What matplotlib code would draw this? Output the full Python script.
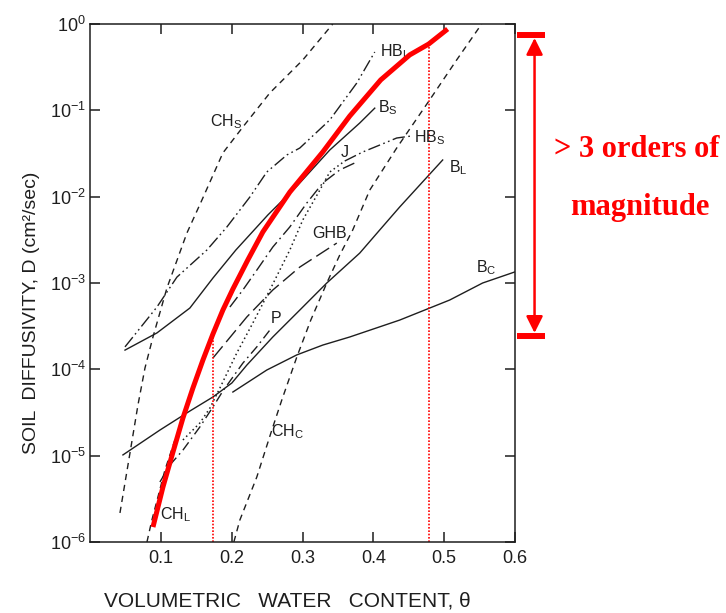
import matplotlib
matplotlib.use('Agg')
import matplotlib.pyplot as plt
from matplotlib.ticker import FixedLocator, NullLocator, FixedFormatter

plt.rcParams['font.family'] = ['Liberation Sans', 'DejaVu Sans']
plt.rcParams['mathtext.fontset'] = 'custom'
plt.rcParams['mathtext.rm'] = 'Liberation Sans'
plt.rcParams['mathtext.it'] = 'Liberation Sans:italic'
plt.rcParams['mathtext.default'] = 'regular'

# ---------------- data (volumetric water content, diffusivity cm2/s) ----------------
red_theta = [0.0889, 0.1030, 0.1171, 0.1312, 0.1453, 0.1594, 0.1735, 0.1876, 0.2017,
             0.2228, 0.2440, 0.2821, 0.3286, 0.3667, 0.4104, 0.4513, 0.4781, 0.5049]
red_D = [1.49e-6, 4.34e-6, 1.10e-5, 2.73e-5, 6.08e-5, 1.28e-4, 2.56e-4, 4.86e-4, 8.51e-4,
         1.85e-3, 3.90e-3, 1.13e-2, 3.29e-2, 8.59e-2, 0.225, 0.438, 0.586, 0.875]

chs_theta = [0.0423, 0.0564, 0.0677, 0.0776, 0.0889, 0.1086, 0.1368, 0.1580, 0.1876,
             0.2158, 0.2539, 0.3004, 0.3427]
chs_D = [2.17e-6, 1.07e-5, 3.86e-5, 1.035e-4, 2.37e-4, 8.75e-4, 3.79e-3, 9.14e-3, 3.21e-2,
         6.41e-2, 0.159, 0.383, 1.0]

chl_theta = [0.0804, 0.0874, 0.0959, 0.1058, 0.1199]
chl_D = [1.0e-6, 1.80e-6, 3.32e-6, 6.82e-6, 1.52e-5]

chc_theta = [0.2031, 0.2116, 0.2355, 0.2567, 0.2708, 0.2920, 0.3117, 0.3343, 0.3526,
             0.3709, 0.3949, 0.4330, 0.4795, 0.5176, 0.5529]
chc_D = [1.0e-6, 1.80e-6, 5.66e-6, 1.98e-5, 4.42e-5, 1.39e-4, 3.72e-4, 1.0e-3, 2.11e-3,
         4.11e-3, 1.19e-2, 3.66e-2, 0.132, 0.383, 1.0]

hbl_theta = [0.0494, 0.0945, 0.1227, 0.1650, 0.1932, 0.2257, 0.2496, 0.2779, 0.2962,
             0.3385, 0.3766, 0.4020]
hbl_D = [1.82e-4, 5.27e-4, 1.17e-3, 2.41e-3, 4.45e-3, 9.91e-3, 1.93e-2, 3.04e-2, 3.66e-2,
         7.73e-2, 0.207, 0.474]

hbs_theta = [0.1312, 0.1551, 0.1693, 0.1834, 0.2073, 0.2299, 0.2539, 0.2821, 0.3004,
             0.3244, 0.3385, 0.3597, 0.3850, 0.4090, 0.4330, 0.4542]
hbs_D = [1.52e-5, 2.39e-5, 3.56e-5, 6.08e-5, 1.55e-4, 3.44e-4, 8.30e-4, 2.41e-3, 5.37e-3,
         1.19e-2, 1.93e-2, 2.59e-2, 3.29e-2, 3.96e-2, 4.78e-2, 5.05e-2]
HBS_SPLIT = 11   # dotted up to this index, dash-dot-dot afterwards

bs_theta = [0.0494, 0.0945, 0.1410, 0.1735, 0.2059, 0.2511, 0.2934, 0.3385, 0.3808, 0.4020]
bs_D = [1.67e-4, 2.64e-4, 5.13e-4, 1.14e-3, 2.41e-3, 6.14e-3, 1.36e-2, 3.47e-2, 7.13e-2, 0.106]

bl_theta = [0.0465, 0.0987, 0.1410, 0.1735, 0.2003, 0.2214, 0.2581, 0.2962, 0.3343,
            0.3808, 0.4090, 0.4372, 0.4654, 0.4979]
bl_D = [1.02e-5, 1.98e-5, 3.29e-5, 4.78e-5, 6.95e-5, 1.12e-4, 2.37e-4, 4.86e-4, 1.0e-3,
        2.22e-3, 4.11e-3, 7.59e-3, 1.36e-2, 2.66e-2]

bc_theta = [0.2017, 0.2496, 0.2920, 0.3286, 0.3667, 0.4372, 0.5078, 0.5543, 0.5994]
bc_D = [5.46e-5, 9.82e-5, 1.47e-4, 1.91e-4, 2.37e-4, 3.72e-4, 6.35e-4, 1.0e-3, 1.34e-3]

j_theta = [0.1975, 0.2158, 0.2355, 0.2581, 0.2821, 0.3061, 0.3286, 0.3526, 0.3766]
j_D = [5.27e-4, 8.30e-4, 1.41e-3, 2.61e-3, 4.46e-3, 8.45e-3, 1.44e-2, 2.04e-2, 2.52e-2]

ghb_theta = [0.1735, 0.2214, 0.2581, 0.2962, 0.3484]
ghb_D = [1.35e-4, 4.04e-4, 8.30e-4, 1.53e-3, 2.90e-3]

p_theta = [0.0987, 0.1128, 0.1312, 0.1551, 0.1735, 0.1876, 0.2158, 0.2355, 0.2539]
p_D = [4.95e-6, 7.80e-6, 1.16e-5, 2.15e-5, 3.66e-5, 5.61e-5, 1.18e-4, 1.82e-4, 2.85e-4]

# red marker lines
guide_theta = [0.1735, 0.478]
guide_top = [2.56e-4, 0.586]
bracket_top = 0.746
bracket_bottom = 2.43e-4

# curve labels
label_text = [r'CH$_{S}$', r'HB$_{L}$', r'B$_{S}$', 'J', r'HB$_{S}$', r'B$_{L}$', 'GHB',
              r'B$_{C}$', 'P', r'CH$_{C}$', r'CH$_{L}$']
label_theta = [0.1918, 0.430, 0.4203, 0.3597, 0.4795, 0.5205, 0.3385, 0.560, 0.2623, 0.2793, 0.1213]
label_D = [0.0733, 0.474, 0.106, 0.0329, 0.0478, 0.0215, 3.79e-3, 1.49e-3, 3.93e-4, 1.88e-5, 2.06e-6]

x_ticks = [0.1, 0.2, 0.3, 0.4, 0.5, 0.6]
x_ticklabels = ['0.1', '0.2', '0.3', '0.4', '0.5', '0.6']
y_ticks = [1e-6, 1e-5, 1e-4, 1e-3, 1e-2, 1e-1, 1e0]
y_ticklabels = [r'$10^{-6}$', r'$10^{-5}$', r'$10^{-4}$', r'$10^{-3}$', r'$10^{-2}$',
                r'$10^{-1}$', r'$10^{0}$']

# ---------------- figure ----------------
fig = plt.figure(figsize=(7.26, 6.13), dpi=100)
ax = fig.add_axes([90 / 726, 1 - 542 / 613, 425 / 726, 518 / 613])
ax.set_yscale('log')
ax.set_xlim(0, 0.6)
ax.set_ylim(1e-6, 1)

ink = '#1e1e1e'
lw = 1.0
dashed = (0, (4.5, 3.5))
dashdotdot = (0, (9, 2.5, 1.2, 2.5, 1.2, 2.5))
dashdot = (0, (9, 3, 1.2, 3))
longdash = (0, (11, 4))
pdashdot = (0, (7, 3, 1.2, 3))
dotted = (0, (1, 2))

ax.plot(chs_theta, chs_D, color=ink, lw=lw, ls=dashed)
ax.plot(chl_theta, chl_D, color=ink, lw=lw, ls=dashed)
ax.plot(chc_theta, chc_D, color=ink, lw=lw, ls=dashed)
ax.plot(hbl_theta, hbl_D, color=ink, lw=lw, ls=dashdotdot)
ax.plot(hbs_theta[:HBS_SPLIT + 1], hbs_D[:HBS_SPLIT + 1], color=ink, lw=1.1, ls=dotted)
ax.plot(hbs_theta[HBS_SPLIT:], hbs_D[HBS_SPLIT:], color=ink, lw=lw, ls=dashdotdot)
ax.plot(bs_theta, bs_D, color=ink, lw=lw)
ax.plot(bl_theta, bl_D, color=ink, lw=lw)
ax.plot(bc_theta, bc_D, color=ink, lw=lw)
ax.plot(j_theta, j_D, color=ink, lw=lw, ls=dashdot)
ax.plot(ghb_theta, ghb_D, color=ink, lw=lw, ls=longdash)
ax.plot(p_theta, p_D, color=ink, lw=lw, ls=pdashdot)

for t, x, y in zip(label_text, label_theta, label_D):
    ax.text(x, y, t, fontsize=11.5, color=ink, ha='center', va='center')

red = '#ff0000'
for gx, gt in zip(guide_theta, guide_top):
    ax.plot([gx, gx], [1e-6, gt], color=red, lw=1.2, ls=(0, (1, 1)))
ax.plot(red_theta, red_D, color=red, lw=3.6, solid_capstyle='butt',
        solid_joinstyle='round', zorder=5)

# bracket outside the axes
bx = 0.6276
ax.plot([0.6023, 0.6418], [bracket_top, bracket_top], color=red, lw=4.3,
        solid_capstyle='butt', clip_on=False)
ax.plot([0.6023, 0.6418], [bracket_bottom, bracket_bottom], color=red, lw=4.3,
        solid_capstyle='butt', clip_on=False)
ax.annotate('', xy=(bx, 0.689), xytext=(bx, 2.64e-4),
            arrowprops=dict(arrowstyle='<|-|>,head_length=0.5,head_width=0.25',
                            color=red, lw=1.8, shrinkA=0, shrinkB=0, mutation_scale=20),
            annotation_clip=False)

fig.text(637 / 726, 1 - 157 / 613, '> 3 orders of', color=red, fontsize=22,
         fontweight='bold', family='Liberation Serif', ha='center', va='baseline')
fig.text(640 / 726, 1 - 215 / 613, 'magnitude', color=red, fontsize=22,
         fontweight='bold', family='Liberation Serif', ha='center', va='baseline')

# axes styling
for s in ax.spines.values():
    s.set_linewidth(1.1)
    s.set_color(ink)
ax.xaxis.set_major_locator(FixedLocator(x_ticks))
ax.xaxis.set_major_formatter(FixedFormatter(x_ticklabels))
ax.xaxis.set_minor_locator(NullLocator())
ax.yaxis.set_major_locator(FixedLocator(y_ticks))
ax.yaxis.set_major_formatter(FixedFormatter(y_ticklabels))
ax.yaxis.set_minor_locator(NullLocator())
ax.tick_params(which='major', direction='in', length=7, width=1.1, top=True, right=True,
               colors=ink, labelsize=13)
ax.tick_params(axis='x', pad=6)
ax.tick_params(axis='y', pad=3)

fig.text(287 / 726, 1 - 601 / 613, 'VOLUMETRIC   WATER   CONTENT, θ', fontsize=15,
         color=ink, ha='center', va='center')
fig.text(32 / 726, 1 - 313 / 613, 'SOIL  DIFFUSIVITY, D (cm²/sec)', fontsize=14,
         color=ink, ha='center', va='center', rotation=90)

fig.savefig('out.png', dpi=100)
